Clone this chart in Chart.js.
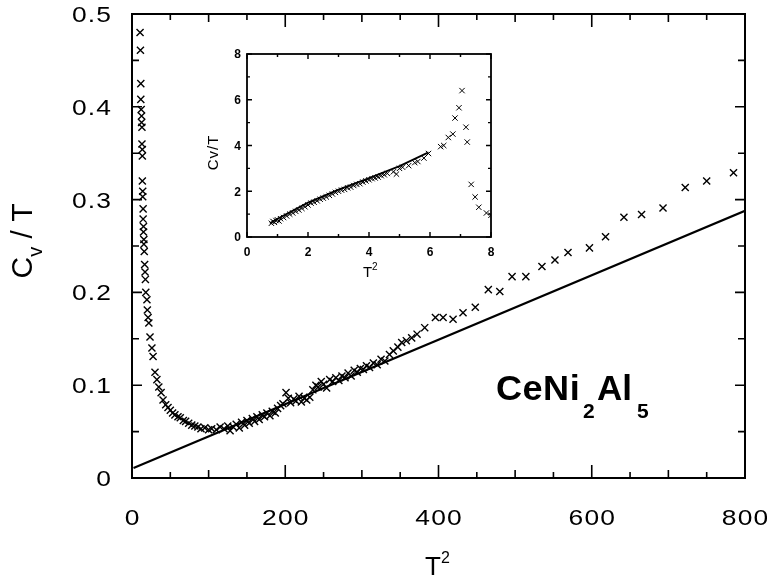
<!DOCTYPE html>
<html>
<head>
<meta charset="utf-8">
<script src="https://cdn.jsdelivr.net/npm/chart.js@4.4.0/dist/chart.umd.min.js"></script>
<style>
    body { margin: 0; background: #fff; }
    #wrap { position: relative; width: 767px; height: 579px; }
    canvas { position: absolute; }
</style>
</head>
<body>
<div id="wrap">
    <canvas id="mainChart" width="767" height="579" style="left:0;top:0"></canvas>
    <canvas id="insetChart" width="295" height="235" style="left:205px;top:45px"></canvas>
</div>
<script>
// main panel: CeNi2Al5, C/T vs T^2
const mainT2 = [10.5, 11, 11.5, 11.5, 12, 12.5, 12.5, 13, 13, 13.5, 13.5, 13.5, 14, 14, 14.5, 14.5, 15, 15, 15.5, 15.5,
    16, 16.5, 17, 17.5, 18, 19.5, 20, 21, 22, 23.5, 26, 27.5, 30, 32.5, 35, 38, 40.5, 44, 47, 50,
    53, 56, 60, 63, 67, 70, 74, 78, 82, 86, 90, 95, 100, 104,
    110, 115, 120, 125, 128, 132, 136, 140, 143, 147, 150, 153, 157, 160, 163, 166, 170, 173, 176, 180,
    183, 187, 190, 194, 197, 201, 204, 207, 211, 214, 218, 221, 225, 228, 232, 236, 240, 243, 247, 250,
    254, 258, 262, 266, 270, 274, 278, 282, 286, 290, 294, 298, 302, 306, 310, 315, 320, 325, 330, 336,
    341, 347, 352, 358, 365, 372,
    382, 396, 406, 419, 432, 448, 465, 480, 496, 514, 535, 552, 569, 597, 618, 642, 665, 693, 722, 750, 785];
const mainCvT = [0.480, 0.461, 0.425, 0.408, 0.397, 0.390, 0.383, 0.378, 0.360, 0.354, 0.347, 0.320, 0.309, 0.303, 0.290, 0.279, 0.271, 0.265, 0.257, 0.252,
    0.244, 0.230, 0.222, 0.214, 0.200, 0.192, 0.181, 0.173, 0.167, 0.152, 0.140, 0.131, 0.114, 0.106, 0.098, 0.092, 0.084, 0.079, 0.076, 0.073,
    0.070, 0.068, 0.066, 0.065, 0.062, 0.061, 0.059, 0.057, 0.056, 0.055, 0.053, 0.054, 0.052, 0.053,
    0.052, 0.055, 0.053, 0.056, 0.051, 0.055, 0.058, 0.054, 0.060, 0.057, 0.062, 0.059, 0.064, 0.061, 0.066, 0.063, 0.068, 0.066, 0.070, 0.067,
    0.072, 0.070, 0.075, 0.078, 0.080, 0.092, 0.086, 0.081, 0.085, 0.083, 0.088, 0.082, 0.086, 0.084, 0.087, 0.095, 0.100, 0.098, 0.104, 0.101,
    0.097, 0.106, 0.104, 0.108, 0.105, 0.110, 0.108, 0.113, 0.110, 0.116, 0.114, 0.118, 0.117, 0.121, 0.119, 0.124, 0.122, 0.128, 0.126, 0.133,
    0.137, 0.141, 0.146, 0.148, 0.151, 0.155,
    0.162, 0.173, 0.173, 0.171, 0.178, 0.184, 0.203, 0.201, 0.217, 0.217, 0.228, 0.235, 0.243, 0.248, 0.260, 0.281, 0.284, 0.291, 0.313, 0.320, 0.329];
const mainFitT2 = [2, 800];
const mainFitCvT = [0.0107, 0.288];
const mainXTicks = [0, 200, 400, 600, 800];
const mainYTicks = [0, 0.1, 0.2, 0.3, 0.4, 0.5];

// inset panel
const insetT2 = [0.80, 0.85, 0.90, 0.95, 1.00, 1.05, 1.10, 1.20, 1.30, 1.40, 1.50, 1.60, 1.70, 1.80, 1.90, 2.00, 2.10, 2.20, 2.30, 2.40,
    2.50, 2.60, 2.70, 2.80, 2.90, 3.00, 3.10, 3.20, 3.30, 3.40, 3.50, 3.60, 3.70, 3.80, 3.90, 4.00, 4.10, 4.20, 4.30, 4.40,
    4.50, 4.60, 4.80, 4.90, 5.00, 5.10, 5.30, 5.50, 5.60, 5.80, 5.95,
    6.35, 6.45, 6.60, 6.75, 6.82, 6.95, 7.05, 7.18, 7.22, 7.35, 7.48, 7.60, 7.85, 8.00];
const insetCvT = [0.60, 0.68, 0.64, 0.72, 0.75, 0.70, 0.80, 0.85, 0.92, 1.00, 1.05, 1.12, 1.18, 1.25, 1.32, 1.40, 1.48, 1.52, 1.58, 1.65,
    1.70, 1.75, 1.82, 1.88, 1.95, 2.00, 2.05, 2.08, 2.15, 2.18, 2.25, 2.30, 2.33, 2.40, 2.45, 2.50, 2.55, 2.58, 2.62, 2.68,
    2.72, 2.78, 2.85, 2.75, 3.00, 3.05, 3.12, 3.25, 3.30, 3.45, 3.65,
    3.95, 4.00, 4.35, 4.50, 5.20, 5.65, 6.40, 4.80, 4.15, 2.30, 1.75, 1.30, 1.05, 0.95];
const insetFitT2 = [0.75, 1, 2, 3, 4, 5, 5.95];
const insetFitCvT = [0.6, 0.8, 1.5, 2.07, 2.57, 3.1, 3.7];
const insetXTicks = [0, 2, 4, 6, 8];
const insetYTicks = [0, 2, 4, 6, 8];

function toPoints(xs, ys) {
    return xs.map((x, i) => ({ x: x, y: ys[i] }));
}

// draw text char by char so spacing and width can be stretched like the scan
function spacedText(ctx, text, x, y, align, spacing, sx) {
    ctx.save();
    ctx.translate(x, y);
    ctx.scale(sx, 1);
    ctx.textAlign = 'left';
    const chars = [...text];
    const widths = chars.map(c => ctx.measureText(c).width);
    const total = widths.reduce((a, b) => a + b, 0) + spacing * (chars.length - 1);
    let pos = align === 'right' ? -total : (align === 'center' ? -total / 2 : 0);
    chars.forEach((c, i) => {
        ctx.fillText(c, pos, 0);
        pos += widths[i] + spacing;
    });
    ctx.restore();
}

function drawFrameTicks(chart, xStep, xLen, yStep, yLen, lw) {
    const ctx = chart.ctx;
    const a = chart.chartArea;
    const sx = chart.scales.x, sy = chart.scales.y;
    ctx.save();
    ctx.strokeStyle = '#000';
    ctx.lineWidth = lw;
    ctx.strokeRect(a.left, a.top, a.right - a.left, a.bottom - a.top);
    ctx.lineWidth = lw * 0.8;
    ctx.beginPath();
    for (let v = sx.min; v <= sx.max + 1e-9; v += xStep) {
        const px = sx.getPixelForValue(v);
        const l = xLen(v);
        ctx.moveTo(px, a.bottom); ctx.lineTo(px, a.bottom - l);
        ctx.moveTo(px, a.top); ctx.lineTo(px, a.top + l);
    }
    for (let v = sy.min; v <= sy.max + 1e-9; v += yStep) {
        const py = sy.getPixelForValue(v);
        const l = yLen(v);
        ctx.moveTo(a.left, py); ctx.lineTo(a.left + l, py);
        ctx.moveTo(a.right, py); ctx.lineTo(a.right - l, py);
    }
    ctx.stroke();
    ctx.restore();
}

const mainDecor = {
    id: 'mainDecor',
    afterDraw(chart) {
        const ctx = chart.ctx;
        const sx = chart.scales.x, sy = chart.scales.y;
        drawFrameTicks(chart, 50,
            v => (Math.round(v) % 200 === 0 ? 13 : (Math.round(v) % 100 === 0 ? 8 : 6)),
            0.05,
            v => (Math.round(v * 100) % 10 === 0 ? 10 : 7), 2);

        ctx.save();
        ctx.fillStyle = '#000';
        ctx.textBaseline = 'middle';
        ctx.font = '22px "Liberation Sans", Arial, sans-serif';
        mainYTicks.forEach(v => {
            const label = v === 0 ? '0' : v.toFixed(1);
            spacedText(ctx, label, 111, sy.getPixelForValue(v) + 2, 'right', 1, 1.2);
        });
        mainXTicks.forEach(v => {
            spacedText(ctx, String(v), sx.getPixelForValue(v), 519, 'center', 1, 1.2);
        });

        // x title T^2
        ctx.textBaseline = 'alphabetic';
        ctx.font = '26px "Liberation Sans", Arial, sans-serif';
        ctx.textAlign = 'left';
        ctx.fillText('T', 425, 575);
        ctx.font = '16px "Liberation Sans", Arial, sans-serif';
        ctx.fillText('2', 441, 563);

        // y title C_v / T, rotated
        ctx.save();
        ctx.translate(32, 241);
        ctx.rotate(-Math.PI / 2);
        ctx.font = '30px "Liberation Sans", Arial, sans-serif';
        const wC = ctx.measureText('C').width;
        ctx.font = '20px "Liberation Sans", Arial, sans-serif';
        const wv = ctx.measureText('v').width;
        ctx.font = '30px "Liberation Sans", Arial, sans-serif';
        const wRest = ctx.measureText(' / T').width;
        let p = -(wC + wv + wRest) / 2;
        ctx.fillText('C', p, 0);
        p += wC;
        ctx.font = '20px "Liberation Sans", Arial, sans-serif';
        ctx.fillText('v', p, 10);
        p += wv;
        ctx.font = '30px "Liberation Sans", Arial, sans-serif';
        ctx.fillText(' / T', p, 0);
        ctx.restore();

        // compound label
        ctx.font = 'bold 35px "Liberation Sans", Arial, sans-serif';
        spacedText(ctx, 'CeNi', 496, 400, 'left', 0.5, 1.03);
        ctx.font = 'bold 21px "Liberation Sans", Arial, sans-serif';
        ctx.fillText('2', 583, 418);
        ctx.font = 'bold 35px "Liberation Sans", Arial, sans-serif';
        ctx.fillText('Al', 597, 400);
        ctx.font = 'bold 21px "Liberation Sans", Arial, sans-serif';
        ctx.fillText('5', 637, 418);
        ctx.restore();
    }
};

const insetDecor = {
    id: 'insetDecor',
    afterDraw(chart) {
        const ctx = chart.ctx;
        const sx = chart.scales.x, sy = chart.scales.y;
        drawFrameTicks(chart, 1, v => (Math.round(v) % 2 === 0 ? 5 : 3), 1, v => (Math.round(v) % 2 === 0 ? 5 : 3), 1.8);

        ctx.save();
        ctx.fillStyle = '#000';
        ctx.textBaseline = 'middle';
        ctx.font = 'bold 12px "Liberation Sans", Arial, sans-serif';
        insetYTicks.forEach(v => {
            spacedText(ctx, String(v), 36, sy.getPixelForValue(v) + 1, 'right', 0, 1);
        });
        insetXTicks.forEach(v => {
            spacedText(ctx, String(v), sx.getPixelForValue(v), 208, 'center', 0, 1);
        });

        ctx.textBaseline = 'alphabetic';
        ctx.textAlign = 'left';
        ctx.font = '15px "Liberation Sans", Arial, sans-serif';
        ctx.fillText('T', 158, 232);
        ctx.font = '10px "Liberation Sans", Arial, sans-serif';
        ctx.fillText('2', 167, 225);

        ctx.save();
        ctx.translate(13, 108);
        ctx.rotate(-Math.PI / 2);
        ctx.font = '15px "Liberation Sans", Arial, sans-serif';
        spacedText(ctx, 'Cv/T', 0, 0, 'center', 1, 1);
        ctx.restore();
        ctx.restore();
    }
};

function baseOptions(xMin, xMax, yMin, yMax, yWidth, xHeight, padTop, padRight) {
    return {
        responsive: false,
        animation: false,
        events: [],
        layout: { padding: { top: padTop, right: padRight, left: 0, bottom: 0 } },
        plugins: { legend: { display: false }, tooltip: { enabled: false } },
        scales: {
            x: {
                type: 'linear', min: xMin, max: xMax,
                ticks: { display: false }, grid: { display: false }, border: { display: false },
                afterFit: s => { s.height = xHeight; }
            },
            y: {
                type: 'linear', min: yMin, max: yMax,
                ticks: { display: false }, grid: { display: false }, border: { display: false },
                afterFit: s => { s.width = yWidth; }
            }
        }
    };
}

new Chart(document.getElementById('mainChart').getContext('2d'), {
    type: 'scatter',
    data: {
        datasets: [{
            label: 'data',
            data: toPoints(mainT2, mainCvT),
            pointStyle: 'crossRot',
            pointRadius: 5,
            borderColor: '#000',
            backgroundColor: '#000',
            borderWidth: 1.4
        }, {
            label: 'fit',
            type: 'line',
            data: toPoints(mainFitT2, mainFitCvT),
            showLine: true,
            pointRadius: 0,
            borderColor: '#000',
            borderWidth: 2.2,
            fill: false
        }]
    },
    options: baseOptions(0, 800, 0, 0.5, 132, 101, 14, 22),
    plugins: [mainDecor]
});

new Chart(document.getElementById('insetChart').getContext('2d'), {
    type: 'scatter',
    data: {
        datasets: [{
            label: 'data',
            data: toPoints(insetT2, insetCvT),
            pointStyle: 'crossRot',
            pointRadius: 3.8,
            borderColor: '#000',
            backgroundColor: '#000',
            borderWidth: 1
        }, {
            label: 'fit',
            type: 'line',
            data: toPoints(insetFitT2, insetFitCvT),
            showLine: true,
            pointRadius: 0,
            borderColor: '#000',
            borderWidth: 1.8,
            fill: false
        }]
    },
    options: baseOptions(0, 8, 0, 8, 42, 43, 9, 9),
    plugins: [insetDecor]
});
</script>
</body>
</html>
